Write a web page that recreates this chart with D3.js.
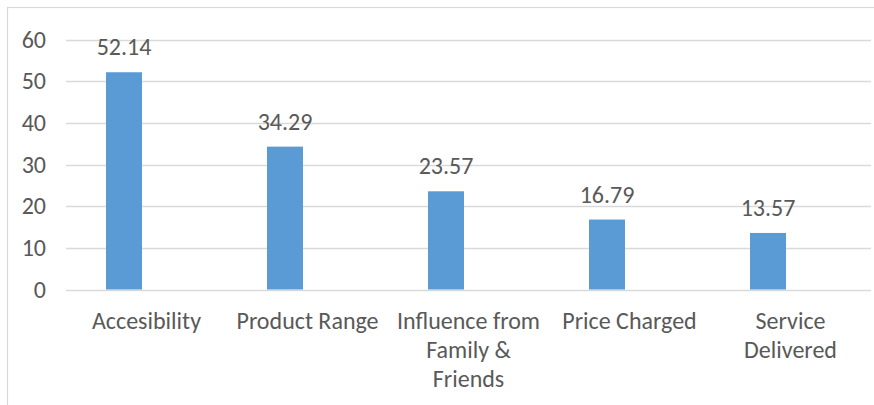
<!DOCTYPE html>
<html>
<head>
<meta charset="utf-8">
<script src="https://cdn.jsdelivr.net/npm/d3@7"></script>
<style>
  body { margin: 0; background: #fff; }
  text { font-family: Carlito, Calibri, "Liberation Sans", Arial, sans-serif; fill: #595959; }
</style>
</head>
<body>
<div id="container"></div>
<script>
let w = 874;
let h = 405;

// data
let categories = ['Accesibility', 'Product Range', 'Influence from Family & Friends', 'Price Charged', 'Service Delivered'];
let values = [52.14, 34.29, 23.57, 16.79, 13.57];
let yTicks = [0, 10, 20, 30, 40, 50, 60];
// second series is empty in the source, it only pushes the bars left
let series = ['value', 'blank'];

let margin = {top: 39.5, right: 3, bottom: 115.5, left: 66};
let fontSize = '24px';

let svg = d3.select('#container').append('svg')
            .attr('width', w)
            .attr('height', h);

// chart frame
svg.append('rect')
   .attr('x', 7.5)
   .attr('y', 7.5)
   .attr('width', w + 20)
   .attr('height', h + 20)
   .attr('fill', 'none')
   .attr('stroke', '#d9d9d9')
   .attr('stroke-width', 1.2);

let xScale = d3.scaleBand()
               .domain(categories)
               .range([margin.left, w - margin.right]);

let inner = d3.scaleBand()
              .domain(series)
              .range([0, xScale.bandwidth()])
              .paddingInner(0.2)
              .paddingOuter(0.889);

let yScale = d3.scaleLinear()
               .domain([0, 60])
               .range([h - margin.bottom, margin.top]);

// gridlines
svg.append('g')
   .attr('class', 'grid')
   .selectAll('line')
   .data(yTicks)
   .enter()
   .append('line')
   .attr('x1', margin.left)
   .attr('x2', w - margin.right)
   .attr('y1', d => Math.round(yScale(d)) + 0.5)
   .attr('y2', d => Math.round(yScale(d)) + 0.5)
   .attr('stroke', '#d9d9d9')
   .attr('stroke-width', 1.3);

let yAxis = d3.axisLeft(yScale)
              .tickValues(yTicks)
              .tickSize(0)
              .tickPadding(20);

let gy = svg.append('g')
            .attr('transform', `translate(${margin.left},0)`)
            .call(yAxis);
gy.select('.domain').remove();
gy.selectAll('text')
  .style('font-size', fontSize)
  .attr('fill', '#595959')
  .attr('font-family', null);

// bars
svg.append('g')
   .selectAll('rect')
   .data(values)
   .enter()
   .append('rect')
   .attr('x', (d, i) => xScale(categories[i]) + inner('value'))
   .attr('width', inner.bandwidth())
   .attr('y', d => yScale(d))
   .attr('height', d => yScale(0) - yScale(d))
   .attr('fill', '#5b9bd5');

// data labels
svg.append('g')
   .selectAll('text')
   .data(values)
   .enter()
   .append('text')
   .attr('x', (d, i) => xScale(categories[i]) + inner('value') + inner.bandwidth() / 2)
   .attr('y', d => yScale(d) - 17)
   .attr('text-anchor', 'middle')
   .style('font-size', fontSize)
   .text(d => d.toFixed(2));

// category labels, wrapped to the band width
let xAxis = d3.axisBottom(xScale)
              .tickSize(0)
              .tickPadding(0);

let gx = svg.append('g')
            .attr('transform', `translate(0,${yScale(0)})`)
            .call(xAxis);
gx.select('.domain').remove();
gx.selectAll('text')
  .style('font-size', fontSize)
  .attr('fill', '#595959')
  .attr('font-family', null)
  .call(wrap, 150);

function wrap(texts, width) {
  texts.each(function() {
    let text = d3.select(this);
    let words = text.text().split(/\s+/);
    let line = [];
    let lineNo = 0;
    text.text(null).attr('dy', null).attr('y', null);
    let tspan = text.append('tspan').attr('x', 0).attr('y', 39);
    words.forEach(word => {
      line.push(word);
      tspan.text(line.join(' '));
      if (tspan.node().getComputedTextLength() > width && line.length > 1) {
        line.pop();
        tspan.text(line.join(' '));
        line = [word];
        lineNo++;
        tspan = text.append('tspan')
                    .attr('x', 0)
                    .attr('y', 39 + lineNo * 29)
                    .text(word);
      }
    });
  });
}
</script>
</body>
</html>
